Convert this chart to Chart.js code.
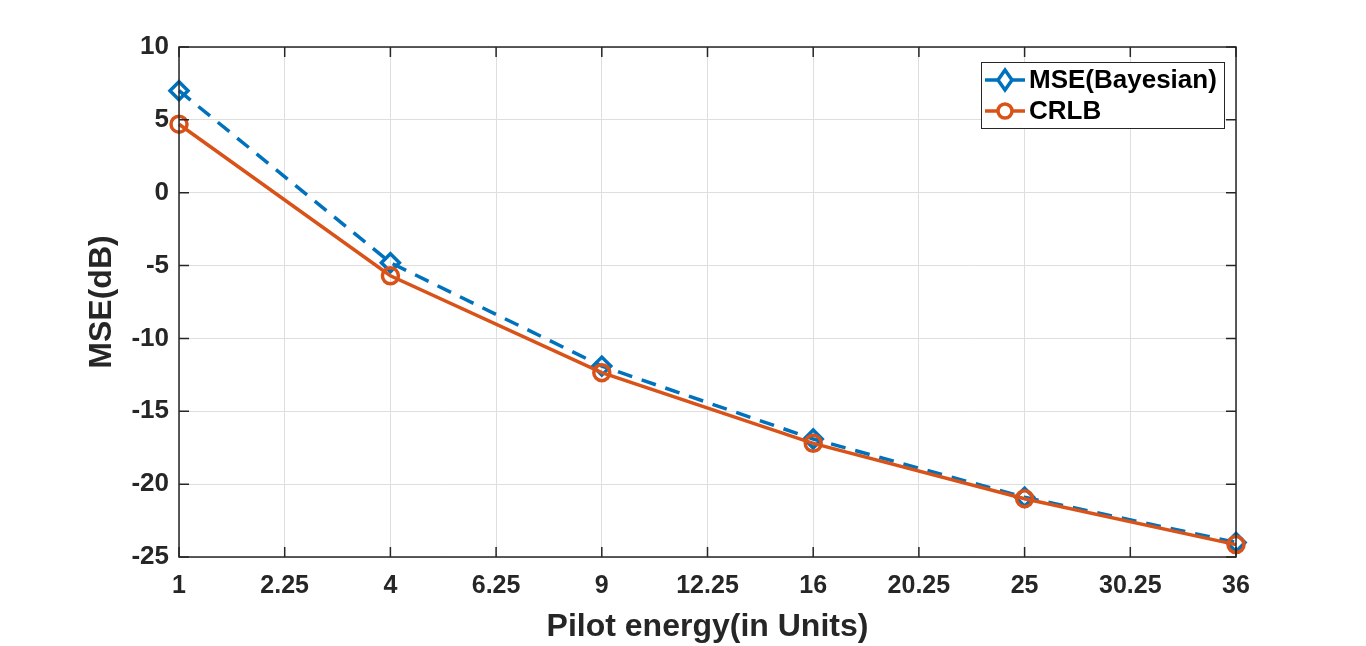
<!DOCTYPE html>
<html>
<head>
<meta charset="utf-8">
<script src="https://cdn.jsdelivr.net/npm/chart.js@4"></script>
<style>
  html, body { margin: 0; padding: 0; background: #fff; }
  #wrap { width: 1366px; height: 646px; position: relative; }
</style>
</head>
<body>
<div id="wrap"><canvas id="c" width="1366" height="646"></canvas></div>
<script>
// x tick labels (evenly spaced), data only at the perfect squares
const xLabels = ['1', '2.25', '4', '6.25', '9', '12.25', '16', '20.25', '25', '30.25', '36'];
const mseBayes = [7.0, null, -4.8, null, -11.9, null, -16.9, null, -20.9, null, -24.0];
const crlb = [4.7, null, -5.7, null, -12.35, null, -17.2, null, -21.0, null, -24.15];
const yTicks = [10, 5, 0, -5, -10, -15, -20, -25];

const blue = '#0072BD';
const orange = '#D95319';
const axisCol = '#262626';
const font = 'Liberation Sans, Arial, sans-serif';

// box + inward ticks like MATLAB
const boxPlugin = {
  id: 'box',
  afterDraw(chart) {
    const { ctx, chartArea: a, scales } = chart;
    ctx.save();
    ctx.strokeStyle = axisCol;
    ctx.lineWidth = 1.5;
    ctx.strokeRect(a.left, a.top, a.right - a.left, a.bottom - a.top);
    const t = 10;
    ctx.beginPath();
    scales.x.ticks.forEach((_, i) => {
      const x = scales.x.getPixelForTick(i);
      ctx.moveTo(x, a.bottom); ctx.lineTo(x, a.bottom - t);
      ctx.moveTo(x, a.top); ctx.lineTo(x, a.top + t);
    });
    scales.y.ticks.forEach((_, i) => {
      const y = scales.y.getPixelForTick(i);
      ctx.moveTo(a.left, y); ctx.lineTo(a.left + t, y);
      ctx.moveTo(a.right, y); ctx.lineTo(a.right - t, y);
    });
    ctx.stroke();
    ctx.restore();
  }
};

// legend drawn inside the plot, top right
const legendBox = {
  id: 'legendBox',
  afterDraw(chart) {
    const { ctx, chartArea: a } = chart;
    const w = 243, h = 66;
    const x0 = a.right - 12 - w, y0 = a.top + 15;
    ctx.save();
    ctx.fillStyle = '#fff';
    ctx.fillRect(x0, y0, w, h);
    ctx.strokeStyle = axisCol;
    ctx.lineWidth = 1;
    ctx.strokeRect(x0 + 0.5, y0 + 0.5, w, h);
    ctx.font = 'bold 26px ' + font;
    ctx.textBaseline = 'middle';
    chart.data.datasets.forEach((ds, i) => {
      const cy = y0 + 18 + i * 31;
      ctx.strokeStyle = ds.borderColor;
      ctx.lineWidth = 3.5;
      ctx.setLineDash([]);
      ctx.beginPath();
      ctx.moveTo(x0 + 4, cy); ctx.lineTo(x0 + 44, cy);
      ctx.stroke();
      ctx.fillStyle = '#fff';
      ctx.beginPath();
      if (ds.pointStyle === 'rectRot') {
        ctx.moveTo(x0 + 24, cy - 10); ctx.lineTo(x0 + 31, cy);
        ctx.lineTo(x0 + 24, cy + 10); ctx.lineTo(x0 + 17, cy); ctx.closePath();
      } else {
        ctx.arc(x0 + 24, cy, 7, 0, Math.PI * 2);
      }
      ctx.fill();
      ctx.stroke();
      ctx.fillStyle = '#000';
      ctx.fillText(ds.label, x0 + 48, cy + 1);
    });
    ctx.restore();
  }
};

new Chart(document.getElementById('c'), {
  type: 'line',
  data: {
    labels: xLabels,
    datasets: [
      {
        label: 'MSE(Bayesian)',
        data: mseBayes,
        borderColor: blue,
        backgroundColor: 'rgba(0,0,0,0)',
        borderWidth: 3.5,
        borderDash: [15, 10],
        pointStyle: 'rectRot',
        pointRadius: 9,
        pointBorderWidth: 3.5,
        pointBackgroundColor: 'rgba(0,0,0,0)',
        spanGaps: true,
        order: 1
      },
      {
        label: 'CRLB',
        data: crlb,
        borderColor: orange,
        backgroundColor: 'rgba(0,0,0,0)',
        borderWidth: 3.5,
        pointStyle: 'circle',
        pointRadius: 8,
        pointBorderWidth: 3.5,
        pointBackgroundColor: 'rgba(0,0,0,0)',
        spanGaps: true,
        order: 0
      }
    ]
  },
  options: {
    responsive: false,
    animation: false,
    layout: { padding: { left: 0, top: 47, right: 130, bottom: 0 } },
    plugins: { legend: { display: false }, tooltip: { enabled: false } },
    scales: {
      x: {
        offset: false,
        grid: { color: '#dedede', lineWidth: 1, drawTicks: false },
        border: { display: false },
        ticks: {
          color: axisCol, padding: 14, maxRotation: 0, autoSkip: false,
          font: { family: font, size: 25, weight: 'bold' }
        },
        title: {
          display: true, text: 'Pilot energy(in Units)', color: axisCol,
          font: { family: font, size: 32, weight: 'bold' }, padding: { top: 0, bottom: 0 }
        },
        afterFit(s) { s.height = 89; }
      },
      y: {
        min: -25, max: 10,
        afterBuildTicks(s) { s.ticks = yTicks.map(v => ({ value: v })); },
        grid: { color: '#dedede', lineWidth: 1, drawTicks: false },
        border: { display: false },
        ticks: {
          color: axisCol, padding: 10,
          font: { family: font, size: 26, weight: 'bold' }
        },
        title: {
          display: true, text: 'MSE(dB)', color: axisCol,
          font: { family: font, size: 32, weight: 'bold' }, padding: { top: 83, bottom: 0 }
        },
        afterFit(s) { s.width = 179; }
      }
    }
  },
  plugins: [boxPlugin, legendBox]
});
</script>
</body>
</html>
